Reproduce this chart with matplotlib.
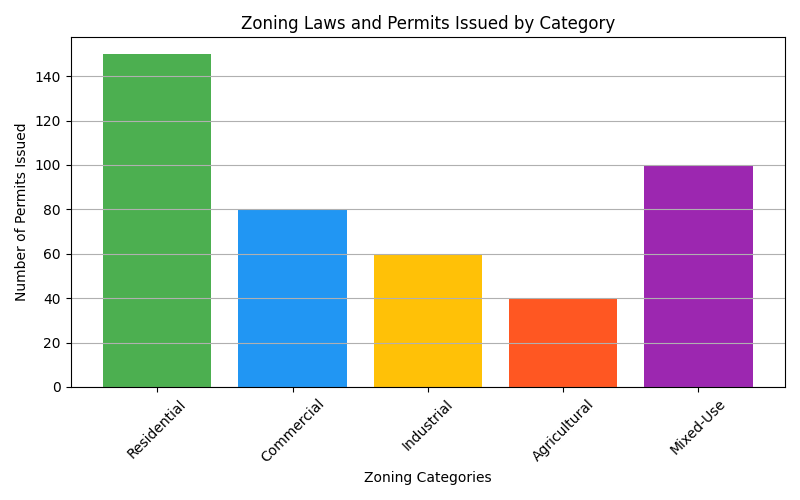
import matplotlib
matplotlib.use("Agg")
import matplotlib.pyplot as plt

categories = ["Residential", "Commercial", "Industrial", "Agricultural", "Mixed-Use"]
permits = [150, 80, 60, 40, 100]
colors = ["#4CAF50", "#2196F3", "#FFC107", "#FF5722", "#9C27B0"]

fig, ax = plt.subplots(figsize=(8, 5), dpi=100)
ax.bar(categories, permits, color=colors)

ax.set_title("Zoning Laws and Permits Issued by Category")
ax.set_xlabel("Zoning Categories")
ax.set_ylabel("Number of Permits Issued")
plt.xticks(rotation=45)
ax.grid(axis="y")

fig.tight_layout()
fig.savefig("out.png")
